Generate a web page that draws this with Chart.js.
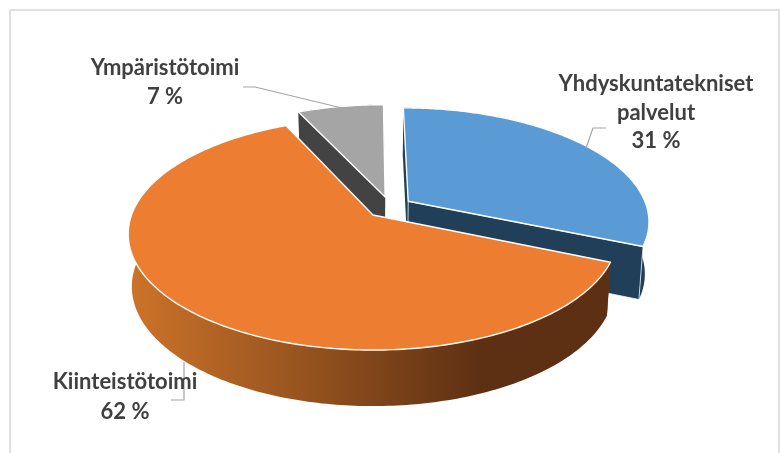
<!DOCTYPE html>
<html><head><meta charset="utf-8">
<style>html,body{margin:0;padding:0;background:#fff}#w{position:relative;width:780px;height:453px}</style>
<script src="https://cdn.jsdelivr.net/npm/chart.js@4"></script></head>
<body><div id="w"><canvas id="c" width="780" height="453"></canvas></div>
<script>
const categories = ["Yhdyskuntatekniset palvelut", "Kiinteistötoimi", "Ympäristötoimi"];
const values = [31.4, 61.8, 6.8];
const topColors = ["#5B9BD5", "#ED7D31", "#A5A5A5"];
const wallColors = ["#223F59", "#5E3013", "#434343"];
const sliceOffsets = [20, 22, 20];

const view = {cx:373, cy:215, a:241.5, b:112.9, p:0.164, sx:0.985, sy:1.03, d:52};
function project(u, v, low){
  const w = 1 - view.p*v;
  const sx = low ? view.sx : 1, sy = low ? view.sy : 1;
  return [view.cx + sx*view.a*u/w, view.cy + sy*view.b*v/w + (low ? view.d : 0)];
}
function shift(arc, R){
  const p = arc.getProps(['startAngle','endAngle'], true);
  const mid = (p.startAngle+p.endAngle)/2, off = arc.options.offset/R;
  return [Math.cos(mid)*off, Math.sin(mid)*off];
}
function outline(arc, base){
  const p = arc.getProps(['startAngle','endAngle','outerRadius'], true);
  const s = shift(arc, p.outerRadius), ou = s[0]-base[0], ov = s[1]-base[1], pts = [];
  const n = Math.ceil((p.endAngle-p.startAngle)*60);
  for(let i=0;i<=n;i++){
    const t = p.startAngle+(p.endAngle-p.startAngle)*i/n;
    pts.push([ou+Math.cos(t), ov+Math.sin(t)]);
  }
  return {ou, ov, pts};
}
function poly(ctx, list, fill, line, width){
  ctx.beginPath();
  list.forEach((q,i)=> i ? ctx.lineTo(q[0],q[1]) : ctx.moveTo(q[0],q[1]));
  ctx.closePath();
  ctx.fillStyle = fill; ctx.fill();
  if(line){ ctx.strokeStyle = line; ctx.lineWidth = width; ctx.lineJoin='round'; ctx.stroke(); }
}
const pie3d = {
  id:'pie3d',
  beforeDatasetsDraw(chart){
    const ctx = chart.ctx, arcs = chart.getDatasetMeta(0).data;
    const base = shift(arcs[1], arcs[1].outerRadius);
    [2,0,1].forEach(i=>{
      const {ou,ov,pts} = outline(arcs[i], base);
      const up = pts.map(q=>project(q[0],q[1],false));
      const lo = pts.map(q=>project(q[0],q[1],true));
      const apexU = project(ou,ov,false), apexL = project(ou,ov,true);
      let wall = wallColors[i];
      if(i===1){
        wall = ctx.createLinearGradient(130,0,480,0);
        wall.addColorStop(0,'#CC7329'); wall.addColorStop(0.5,'#96531F'); wall.addColorStop(1,'#5E3013');
      }
      const edge = i===0 ? '#ffffff' : null;
      poly(ctx,up.concat(lo.slice().reverse()),wall,null,0);
      poly(ctx,[apexU,up[0],lo[0],apexL],wall,null,0);
      poly(ctx,[apexU,up[up.length-1],lo[lo.length-1],apexL],wall,edge,0.7);
      poly(ctx,[apexU].concat(up),topColors[i],'#ffffff',1.4);
    });
    return false;
  },
  afterDraw(chart){
    const ctx = chart.ctx;
    ctx.save();
    ctx.strokeStyle='#E0E0E0'; ctx.lineWidth=2;
    ctx.beginPath(); ctx.moveTo(10,453); ctx.lineTo(10,10); ctx.lineTo(779,10); ctx.lineTo(779,453); ctx.stroke();
    ctx.strokeStyle='#A6A6A6'; ctx.lineWidth=1.2;
    [[[243,87],[255,87],[342,108]],[[606,128],[593,128],[586,148]],[[171,400],[184,400],[184,362]]].forEach(l=>{
      ctx.beginPath(); l.forEach((q,i)=> i?ctx.lineTo(q[0],q[1]):ctx.moveTo(q[0],q[1])); ctx.stroke();
    });
    const pct = i => Math.round(values[i])+" %";
    ctx.fillStyle='#404040'; ctx.font='bold 22px Lato'; ctx.textAlign='center'; ctx.textBaseline='middle';
    const words = categories[0].split(" ");
    ctx.fillText(words[0],656,84);
    ctx.fillText(words[1],656,113);
    ctx.fillText(pct(0),656,141);
    ctx.fillText(categories[2],165,68);
    ctx.fillText(pct(2),165,97);
    ctx.fillText(categories[1],125,382);
    ctx.fillText(pct(1),125,412);
    ctx.restore();
  }
};
new Chart(document.getElementById('c'),{
  type:'pie',
  data:{labels:categories,datasets:[{data:values,backgroundColor:topColors,offset:sliceOffsets,borderWidth:0}]},
  options:{responsive:false,animation:false,rotation:0,
    plugins:{legend:{display:false},tooltip:{enabled:false}}},
  plugins:[pie3d]
});
</script></body></html>
